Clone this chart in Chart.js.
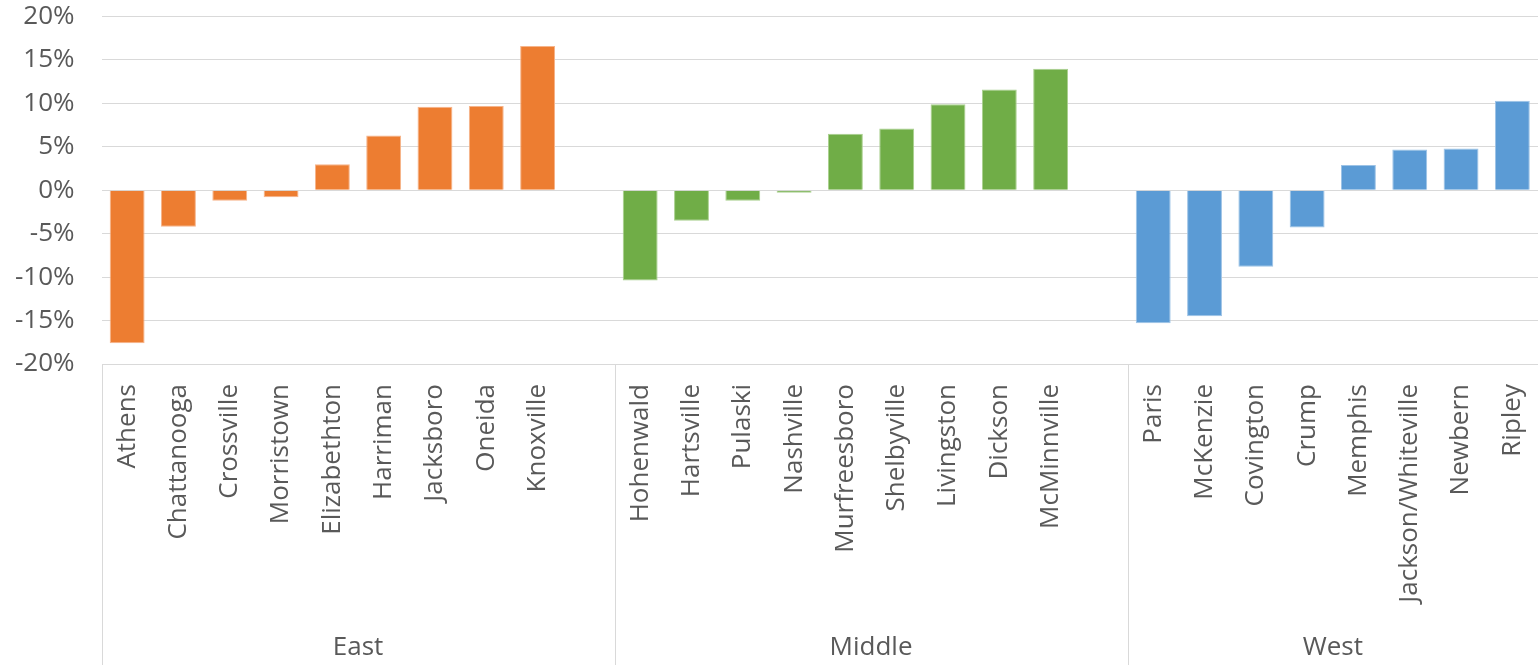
<!DOCTYPE html>
<html>
<head>
<meta charset="utf-8">
<script src="https://cdn.jsdelivr.net/npm/chart.js@4"></script>
<style>
  body { margin: 0; background: #fff; }
  canvas { display: block; }
</style>
</head>
<body>
<canvas id="centrosGrafico" width="1538" height="665"></canvas>
<script>
const regions = ['East', 'Middle', 'West'];

const eastCities = ['Athens', 'Chattanooga', 'Crossville', 'Morristown', 'Elizabethton', 'Harriman', 'Jacksboro', 'Oneida', 'Knoxville'];
const eastValues = [-17.6, -4.2, -1.2, -0.8, 3.0, 6.3, 9.6, 9.7, 16.6];

const middleCities = ['Hohenwald', 'Hartsville', 'Pulaski', 'Nashville', 'Murfreesboro', 'Shelbyville', 'Livingston', 'Dickson', 'McMinnville'];
const middleValues = [-10.4, -3.5, -1.2, -0.3, 6.5, 7.1, 9.9, 11.6, 14.0];

const westCities = ['Paris', 'McKenzie', 'Covington', 'Crump', 'Memphis', 'Jackson/Whiteville', 'Newbern', 'Ripley'];
const westValues = [-15.3, -14.5, -8.8, -4.3, 2.9, 4.7, 4.8, 10.3];

const yTicks = [-20, -15, -10, -5, 0, 5, 10, 15, 20];

const regionColors = ['#ED7D31', '#70AD47', '#5B9BD5'];
const regionEdges = ['#F6B48A', '#A9D08E', '#9DC3E6'];

// an empty slot after East and Middle keeps the groups apart
const groups = [
  { cities: eastCities, values: eastValues, spacer: true },
  { cities: middleCities, values: middleValues, spacer: true },
  { cities: westCities, values: westValues, spacer: false }
];

const labels = [];
const values = [];
const fills = [];
const edges = [];
const spans = [];
groups.forEach((g, i) => {
  const start = labels.length;
  g.cities.forEach((c, j) => {
    labels.push(c);
    values.push(g.values[j]);
    fills.push(regionColors[i]);
    edges.push(regionEdges[i]);
  });
  if (g.spacer) {
    labels.push('');
    values.push(null);
    fills.push('rgba(0,0,0,0)');
    edges.push('rgba(0,0,0,0)');
  }
  spans.push({ name: regions[i], start: start, end: labels.length });
});

const textColor = '#595959';
const gridColor = '#D9D9D9';
const fontFamily = '"Open Sans", sans-serif';

// region names and the boxes under the city labels
const regionAxis = {
  id: 'regionAxis',
  afterDraw(chart) {
    const ctx = chart.ctx;
    const x = chart.scales.x;
    const step = x.width / labels.length;
    const top = chart.chartArea.bottom;
    ctx.save();
    ctx.strokeStyle = gridColor;
    ctx.lineWidth = 1;
    ctx.fillStyle = textColor;
    ctx.font = '26px ' + fontFamily;
    ctx.textAlign = 'center';
    ctx.textBaseline = 'middle';
    spans.forEach(s => {
      const left = Math.round(x.left + s.start * step) + 0.5;
      ctx.beginPath();
      ctx.moveTo(left, top);
      ctx.lineTo(left, chart.height);
      ctx.stroke();
      const mid = x.left + (s.start + s.end) / 2 * step;
      ctx.fillText(s.name, mid, 648);
    });
    ctx.restore();
  }
};

const ctx = document.getElementById('centrosGrafico').getContext('2d');
const centrosChart = new Chart(ctx, {
  type: 'bar',
  data: {
    labels: labels,
    datasets: [{
      data: values,
      backgroundColor: fills,
      borderColor: edges,
      borderWidth: 1,
      categoryPercentage: 1,
      barPercentage: 0.68
    }]
  },
  options: {
    responsive: false,
    animation: false,
    layout: {
      padding: { top: 16.5, right: -4, bottom: 0, left: 0 }
    },
    plugins: {
      legend: { display: false },
      tooltip: { enabled: false }
    },
    scales: {
      x: {
        grid: { display: false, drawTicks: false },
        border: { display: false },
        ticks: {
          autoSkip: false,
          minRotation: 90,
          maxRotation: 90,
          padding: 20,
          color: textColor,
          font: { family: fontFamily, size: 26 }
        },
        afterFit(scale) {
          scale.height = 301;
          scale.paddingLeft = 0;
          scale.paddingRight = 0;
        }
      },
      y: {
        min: -20,
        max: 20,
        afterBuildTicks(scale) {
          scale.ticks = yTicks.map(v => ({ value: v }));
        },
        grid: { color: gridColor, lineWidth: 1, drawTicks: false },
        border: { display: false },
        ticks: {
          padding: 27,
          color: textColor,
          font: { family: fontFamily, size: 26 },
          callback: function(value) {
            return value + '%';
          }
        },
        afterFit(scale) {
          scale.width = 101.5;
          scale.paddingTop = 0;
          scale.paddingBottom = 0;
        }
      }
    }
  },
  plugins: [regionAxis]
});
</script>
</body>
</html>
